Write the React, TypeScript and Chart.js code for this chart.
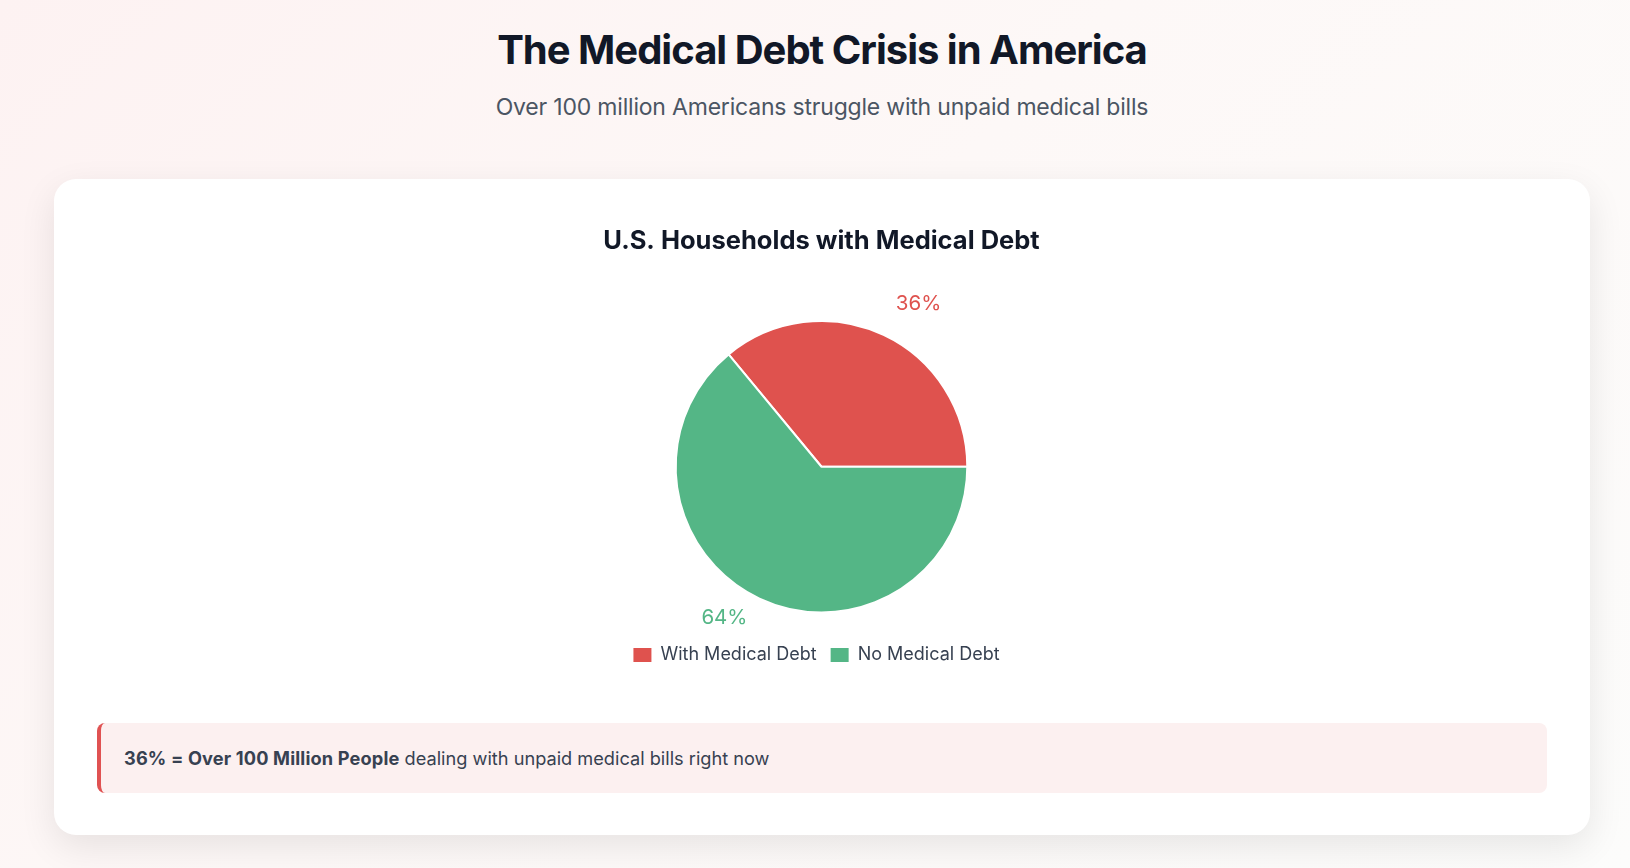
import React, { useEffect, useRef } from 'react';
import { Chart, registerables } from 'chart.js';

Chart.register(...registerables);

const categories = ['With Medical Debt', 'No Medical Debt'];
const shares = [36, 64];
const sliceColors = ['#DF524E', '#54B686'];

const pageTitle = 'The Medical Debt Crisis in America';
const pageSubtitle = 'Over 100 million Americans struggle with unpaid medical bills';
const chartTitle = 'U.S. Households with Medical Debt';
const noteBold = '36% = Over 100 Million People';
const noteRest = ' dealing with unpaid medical bills right now';

const FONT = 'Inter, "Noto Sans", sans-serif';

const sliceLabelPlugin = {
  id: 'sliceLabels',
  afterDatasetsDraw(chart: any) {
    const ctx = chart.ctx;
    const meta = chart.getDatasetMeta(0);
    meta.data.forEach((arc: any, i: number) => {
      const p = arc.getProps(['x', 'y', 'startAngle', 'endAngle', 'outerRadius'], true);
      const mid = (p.startAngle + p.endAngle) / 2;
      const c = Math.cos(mid);
      const s = Math.sin(mid);
      const ex = p.x + p.outerRadius * c;
      const ey = p.y + p.outerRadius * s;
      const lx = ex + Math.sign(c) * 35;
      const ly = ey + Math.sign(s) * 25 - 6;
      ctx.save();
      ctx.font = '20.5px ' + FONT;
      ctx.fillStyle = sliceColors[i];
      ctx.textAlign = 'center';
      ctx.textBaseline = 'middle';
      ctx.fillText(shares[i] + '%', lx, ly);
      ctx.restore();
    });
  },
};

// the reference legend row sits slightly left of the pie's centre
const legendShiftPlugin = {
  id: 'legendShift',
  afterLayout(chart: any) {
    const lg = chart.legend;
    if (lg && lg.lineWidths) lg.lineWidths = lg.lineWidths.map((w: number) => w + 10);
  },
};

function PieChart() {
  const ref = useRef<HTMLCanvasElement | null>(null);
  useEffect(() => {
    if (!ref.current) return;
    Chart.defaults.font.family = FONT;
    const baseLabels = (Chart as any).overrides.pie.plugins.legend.labels.generateLabels;
    const chart = new Chart(ref.current, {
      type: 'pie',
      data: {
        labels: categories,
        datasets: [
          {
            data: shares,
            backgroundColor: sliceColors,
            borderColor: '#ffffff',
            borderWidth: 2,
            hoverOffset: 0,
            radius: '88.75%',
          } as any,
        ],
      },
      options: {
        animation: false,
        responsive: true,
        maintainAspectRatio: false,
        rotation: -39.6,
        layout: { padding: { top: 0, bottom: 6, left: 0, right: 0 } },
        plugins: {
          title: {
            display: true,
            text: chartTitle,
            color: '#111827',
            font: { size: 25.5, weight: 'bold', family: FONT },
            padding: { top: 26.4, bottom: 44.5 },
          },
          legend: {
            position: 'bottom',
            labels: {
              boxWidth: 18,
              boxHeight: 14,
              padding: 14,
              color: '#374151',
              font: { size: 18, family: FONT },
              generateLabels: (ch: any) =>
                baseLabels(ch).map((l: any) => ({ ...l, lineWidth: 0, strokeStyle: 'transparent' })),
            },
          },
          tooltip: { enabled: false },
        },
      } as any,
      plugins: [sliceLabelPlugin, legendShiftPlugin],
    });
    return () => chart.destroy();
  }, []);
  return <canvas ref={ref} />;
}

export default function App() {
  return (
    <div
      style={{
        position: 'absolute',
        left: 0,
        top: 0,
        width: 1630,
        height: 868,
        overflow: 'hidden',
        fontFamily: FONT,
        background: 'linear-gradient(135deg, #fdf2f2 0%, #fdf8f7 45%, #fcfcfb 100%)',
      }}
    >
      <div
        style={{
          position: 'absolute',
          left: 54,
          width: 1536,
          top: 29.5,
          fontSize: 40,
          lineHeight: '40px',
          fontWeight: 700,
          letterSpacing: '-1px',
          color: '#111827',
          textAlign: 'center',
        }}
      >
        {pageTitle}
      </div>
      <div
        style={{
          position: 'absolute',
          left: 54,
          width: 1536,
          top: 96,
          fontSize: 23,
          lineHeight: '23px',
          letterSpacing: '-0.2px',
          color: '#4B5563',
          textAlign: 'center',
        }}
      >
        {pageSubtitle}
      </div>
      <div
        style={{
          position: 'absolute',
          left: 54,
          top: 179,
          width: 1536,
          height: 656,
          background: '#ffffff',
          borderRadius: 22,
          boxShadow: '0 12px 36px rgba(0,0,0,0.09)',
        }}
      />
      <div style={{ position: 'absolute', left: 96, top: 200, width: 1451, height: 480 }}>
        <PieChart />
      </div>
      <div
        style={{
          position: 'absolute',
          left: 97,
          top: 723,
          width: 1450,
          height: 70,
          boxSizing: 'border-box',
          background: '#FCF0F0',
          borderLeft: '4px solid #E05252',
          borderRadius: 8,
          display: 'flex',
          alignItems: 'center',
          paddingLeft: 23,
          fontSize: 18.2,
          color: '#374151',
        }}
      >
        <span>
          <span style={{ fontWeight: 700, letterSpacing: '0.15px' }}>{noteBold}</span>
          {noteRest}
        </span>
      </div>
    </div>
  );
}
